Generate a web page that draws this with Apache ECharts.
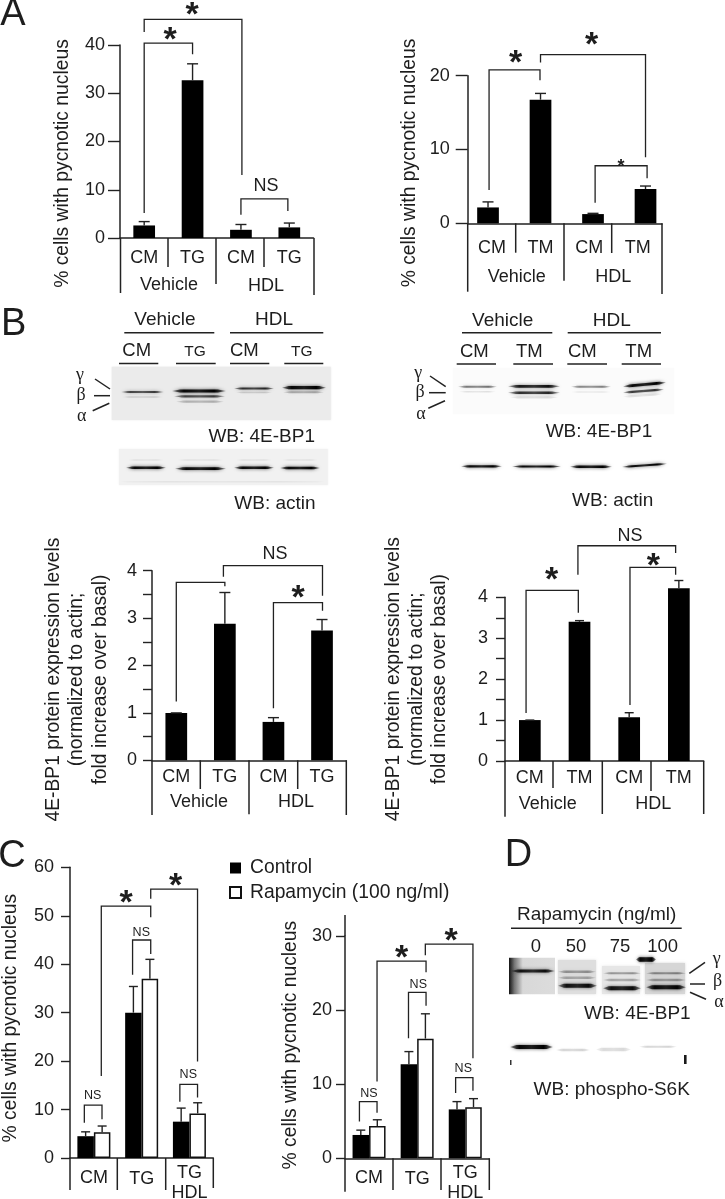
<!DOCTYPE html>
<html>
<head>
<meta charset="utf-8">
<style>html,body{margin:0;padding:0;background:#fff}#c{width:725px;height:1199px}</style>
<script src="https://cdn.jsdelivr.net/npm/echarts@6/dist/echarts.min.js"></script>
</head>
<body>
<div id="c"></div>
<script>
// ---------- DATA ----------
const a1Cats = ['CM','TG','CM','TG'];
const a1Vals = [2.6,32.7,1.7,2.2];
const a1Tops = [3.4,36.1,2.8,3.1];
const a2Cats = ['CM','TM','CM','TM'];
const a2Vals = [2.15,16.75,1.25,4.65];
const a2Tops = [2.9,17.6,1.35,5.05];
const b1Cats = ['CM','TG','CM','TG'];
const b1Vals = [1.0,2.88,0.81,2.74];
const b1Tops = [1.0,3.54,0.90,2.97];
const b2Cats = ['CM','TM','CM','TM'];
const b2Vals = [1.0,3.40,1.07,4.22];
const b2Tops = [1.0,3.43,1.18,4.41];
const c1Cats = ['CM','TG','TG\nHDL'];
const c1Control = [4.5,30.0,7.5];
const c1ControlTops = [5.4,35.4,10.3];
const c1Rapa = [5.3,37.0,9.2];
const c1RapaTops = [6.6,41.0,11.4];
const c2Cats = ['CM','TG','TG\nHDL'];
const c2Control = [3.15,12.7,6.6];
const c2ControlTops = [3.8,14.4,7.65];
const c2Rapa = [4.36,16.15,6.9];
const c2RapaTops = [5.2,19.5,8.05];
const yTitleCells = '% cells with pycnotic nucleus';
const yTitleExpr = '4E-BP1 protein expression levels\n(normalized to actin;\nfold increase over basal)';
const seriesControl = 'Control';
const seriesRapa = 'Rapamycin (100 ng/ml)';
// brackets: [xLeft, footLeft, xRight, footRight, top] in bar-index / axis-value units
const a1Brackets = [[0,5.2,1,38.1,40.4],[0,42.7,2.02,13.05,45.3],[2,4.8,2.97,5.6,8.1]];
const a2Brackets = [[0.02,4.5,0.99,19.4,20.8],[1,21.8,3,8.94,22.85],[2.04,2.8,3.03,6.1,7.8]];
const b1Brackets = [[0,1.24,1,3.67,3.755],[0.97,3.87,3.01,3.47,4.105],[2,1.10,3.01,3.155,3.325]];
const b2Brackets = [[-0.076,1.17,0.976,3.62,4.17],[0.968,4.55,2.935,5.08,5.26],[2.016,1.37,2.935,4.55,4.73]];
const c1Brackets = [[-0.2,7.3,0.17,8.0,10.9],[0.155,16.9,1.19,49.7,52],[1.19,53.5,2.17,19.9,55.5],[0.81,37.8,1.19,42.1,45],[1.8,11.6,2.17,12.5,15.2]];
const c2Brackets = [[-0.2,4.95,0.166,6.16,7.65],[0.166,10.35,1.185,25.1,26.6],[1.17,27.4,2.16,13.5,28.9],[0.82,16.2,1.185,20.6,22.4],[1.8,8.8,2.16,9.1,10.9]];

// ---------- STYLE ----------
const INK = '#1d1d1d', LINE = '#222';
const SANS = '"Liberation Sans", Arial, sans-serif', SERIF = '"Liberation Serif", serif';

const grids=[], xAxes=[], yAxes=[], series=[];
function bracketSeries(data,xi,yi){
  return {type:'custom',coordinateSystem:'cartesian2d',xAxisIndex:xi,yAxisIndex:yi,silent:true,z:5,
    encode:{x:[0,2],y:[1,3,4]},data,
    renderItem(p,api){
      const a=api.value(0),f1=api.value(1),b=api.value(2),f2=api.value(3),t=api.value(4);
      return {type:'polyline',shape:{points:[api.coord([a,f1]),api.coord([a,t]),api.coord([b,t]),api.coord([b,f2])]},
        style:{fill:'none',stroke:LINE,lineWidth:1.3}};
    }};
}
function errorSeries(vals,tops,xi,yi,off,cap){
  return {type:'custom',coordinateSystem:'cartesian2d',xAxisIndex:xi,yAxisIndex:yi,silent:true,z:4,
    encode:{x:0,y:[1,2]},data:vals.map((v,i)=>[i,v,tops[i]]),
    renderItem(p,api){
      const b=api.coord([api.value(0),api.value(1)]),t=api.coord([api.value(0),api.value(2)]);
      const x=b[0]+off,st={stroke:LINE,lineWidth:1.4,fill:'none'};
      return {type:'group',children:[
        {type:'line',shape:{x1:x,y1:b[1],x2:x,y2:t[1]},style:st},
        {type:'line',shape:{x1:x-cap/2,y1:t[1],x2:x+cap/2,y2:t[1]},style:st}]};
    }};
}
function panel(o){
  const g=grids.length;
  grids.push({left:o.left,top:o.top,width:o.width,height:o.height,containLabel:false,outerBoundsMode:'none'});
  const xi=xAxes.length, n=o.cats.length;
  xAxes.push({type:'category',gridIndex:g,data:o.catData||o.cats,
    axisLine:{onZero:false,lineStyle:{color:LINE,width:1.5}},axisTick:{show:false},
    axisLabel:{color:INK,fontFamily:SANS,fontSize:18,margin:o.labelMargin,interval:0,lineHeight:20}});
  xAxes.push({type:'value',gridIndex:g,show:false,min:o.xMin!==undefined?o.xMin:-0.5,max:o.xMax!==undefined?o.xMax:n-0.5,splitLine:{show:false}});
  yAxes.push({type:'value',gridIndex:g,min:0,max:o.max,interval:o.interval,
    axisLine:{show:true,onZero:false,lineStyle:{color:LINE,width:1.5}},
    axisTick:{show:true,length:o.tick,lineStyle:{color:LINE,width:1.4}},
    splitLine:{show:false},
    axisLabel:{color:INK,fontFamily:SANS,fontSize:18,margin:o.tick+o.tickMargin,
      formatter:v=>(v%o.labelEvery===0?String(v):'')},
    name:o.title,nameLocation:'middle',nameGap:o.nameGap,nameRotate:90,
    nameTextStyle:{color:INK,fontFamily:SANS,fontSize:19.3,lineHeight:23.3,padding:o.namePad}});
  const bar=(name,vals,color,w)=>({type:'bar',name,xAxisIndex:o.barsOnValue?xi+1:xi,yAxisIndex:g,barWidth:w,barGap:0,z:3,clip:false,
    data:o.barsOnValue?vals.map((v,i)=>[i,v]):vals,
    itemStyle:{color,borderColor:'#111',borderWidth:color==='#000'?0:1.5}});
  o.sets.forEach(s=>{
    series.push(bar(s.name,s.vals,s.color,o.barW));
    series.push(errorSeries(s.vals,s.tops,xi+1,g,s.off,o.cap));
  });
  series.push(bracketSeries(o.brackets,xi+1,g));
}
panel({cats:a1Cats,left:120,top:45,width:193.5,height:193,max:40,interval:10,labelEvery:10,tick:12,tickMargin:3,labelMargin:10,
  title:yTitleCells,nameGap:46,namePad:[0,44,0,0],barW:21.7,cap:11,brackets:a1Brackets,
  sets:[{name:'A TG',vals:a1Vals,tops:a1Tops,color:'#000',off:0}]});
panel({cats:a2Cats,left:467.7,top:75.7,width:194.3,height:147.6,max:20,interval:10,labelEvery:10,tick:12,tickMargin:6,labelMargin:14.5,
  barsOnValue:true,xMin:-0.387,xMax:3.314,
  title:yTitleCells,nameGap:46,namePad:[0,27,0,0],barW:21.7,cap:11,brackets:a2Brackets,
  sets:[{name:'A TM',vals:a2Vals,tops:a2Tops,color:'#000',off:0}]});
panel({cats:b1Cats,left:152,top:570.7,width:194.3,height:189.6,max:4,interval:0.5,labelEvery:1,tick:9,tickMargin:6,labelMargin:7,
  title:yTitleExpr,nameGap:40,namePad:[0,28,0,0],barW:21.7,cap:11,brackets:b1Brackets,
  sets:[{name:'B TG',vals:b1Vals,tops:b1Tops,color:'#000',off:0}]});
panel({cats:b2Cats,left:505,top:597.3,width:198.7,height:163.7,max:4,interval:0.5,labelEvery:1,tick:9,tickMargin:8,labelMargin:7,
  title:yTitleExpr,nameGap:53.5,namePad:[0,0,0,0],barW:21.7,cap:9,brackets:b2Brackets,
  sets:[{name:'B TM',vals:b2Vals,tops:b2Tops,color:'#000',off:0}]});
const cCatData=[{value:'CM',textStyle:{padding:[5.2,0,0,0]}},{value:'TG',textStyle:{padding:[6,0,0,0]}},'TG\nHDL'];
panel({cats:c1Cats,catData:cCatData,
  left:70,top:867.3,width:143.3,height:290.7,max:60,interval:10,labelEvery:10,tick:9,tickMargin:7,labelMargin:5,
  title:yTitleCells,nameGap:47.5,namePad:[0,11,0,0],barW:16.5,cap:9,brackets:c1Brackets,
  sets:[{name:seriesControl,vals:c1Control,tops:c1ControlTops,color:'#000',off:-8.25},
        {name:seriesRapa,vals:c1Rapa,tops:c1RapaTops,color:'#fff',off:8.25}]});
panel({cats:c2Cats,catData:cCatData,
  left:345,top:936,width:144.3,height:222.3,max:30,interval:10,labelEvery:10,tick:9,tickMargin:4,labelMargin:5,
  title:yTitleCells,nameGap:43,namePad:[0,0,0,4],barW:16.5,cap:9,brackets:c2Brackets,
  sets:[{name:seriesControl,vals:c2Control,tops:c2ControlTops,color:'#000',off:-8.25},
        {name:seriesRapa,vals:c2Rapa,tops:c2RapaTops,color:'#fff',off:8.25}]});

// ---------- GRAPHIC HELPERS ----------
const G=[];
const txt=(s,x,y,size,opt)=>G.push({type:'text',x,y,silent:true,z:10,
  style:{text:s,fill:INK,font:(opt&&opt.weight?opt.weight+' ':'')+size+'px '+((opt&&opt.family)||SANS),align:'center',verticalAlign:'middle'}});
const star=(x,y,size)=>txt('*',x,y+size*0.24,size,{weight:'bold'});
const seg=(x1,y1,x2,y2,w)=>G.push({type:'line',silent:true,z:6,shape:{x1,y1,x2,y2},style:{stroke:LINE,lineWidth:w||1.5}});
const box=(x,y,w,h,fill,blur)=>G.push({type:'rect',silent:true,z:1,shape:{x,y,width:w,height:h},style:{fill,shadowBlur:blur||0,shadowColor:typeof fill==='string'?fill:'transparent'}});
// fuzzy blot band: a tapered lens with a gradient along its length
const band=(x1,x2,y,th,a,y2)=>{
  const e=y2===undefined?y:y2,L=x2-x1,h=th/2,q=Math.min(L*0.15,8);
  const ym=(t)=>y+(e-y)*t;
  const f=new echarts.graphic.LinearGradient(0,0,1,0,[
    {offset:0,color:`rgba(0,0,0,${a*0.35})`},{offset:.22,color:`rgba(0,0,0,${a*0.95})`},
    {offset:.5,color:`rgba(0,0,0,${a*0.8})`},{offset:.78,color:`rgba(0,0,0,${a})`},{offset:1,color:`rgba(0,0,0,${a*0.35})`}]);
  G.push({type:'polygon',silent:true,z:2,shape:{points:[[x1,y],[x1+q,ym(q/L)-h],[x2-q,ym(1-q/L)-h],[x2,e],[x2-q,ym(1-q/L)+h],[x1+q,ym(q/L)+h]]},
    style:{fill:f,shadowBlur:3.5,shadowColor:`rgba(0,0,0,${a*0.75})`}});
};
const mark=(x,y,w,h,a)=>G.push({type:'rect',silent:true,z:2,shape:{x,y,width:w,height:h},style:{fill:`rgba(0,0,0,${a})`}});

// panel letters
txt('A',13,15,38); txt('B',13.7,325,38); txt('C',12,857,38); txt('D',518.5,856,38);

// A1 furniture
[[120.5,293],[168,267],[216,284],[264,267],[314,295]].forEach(d=>seg(d[0],238,d[0],d[1]));
txt('Vehicle',169,285,18); txt('HDL',266,285.7,18);
star(192,7,34); star(170,32,34); txt('NS',266,186,18);
// A2 furniture
[[467.7,291.7],[515.7,252.7],[564,280.7],[611.7,253],[662,294]].forEach(d=>seg(d[0],223.3,d[0],d[1]));
txt('Vehicle',516.7,276.7,18); txt('HDL',613.3,277,18);
star(515.7,55,34); star(591.7,37.7,34); star(621,162.7,18);
// B1 furniture
[[152,815],[200.3,789],[249,814.3],[297.7,789],[346.3,815]].forEach(d=>seg(d[0],760.3,d[0],d[1]));
txt('Vehicle',199,801.7,18); txt('HDL',296,801.7,18);
star(298,590,34); txt('NS',275,554,18);
// B2 furniture
[[505,816.7],[553,788],[602.3,814],[651,791],[703.7,814]].forEach(d=>seg(d[0],761,d[0],d[1]));
txt('Vehicle',547.7,803.7,18); txt('HDL',653.3,803.7,18);
star(551.7,572.3,34); star(653.3,558.3,34); txt('NS',630,535.7,18);
// C1 furniture
[[70,1190],[117.3,1190],[165.7,1190],[213.3,1188]].forEach(d=>seg(d[0],1158,d[0],d[1]));
star(126,895.7,34); star(175.7,878.3,34);
txt('NS',92.7,1095.7,12.5); txt('NS',141.3,932.7,12.5); txt('NS',188.3,1074.3,12.5);
// C2 furniture
[[345,1191.7],[393,1190],[441,1190],[489.3,1190]].forEach(d=>seg(d[0],1158.3,d[0],d[1]));
seg(345,915,345,936);
star(401.7,950,34); star(451,933,34);
txt('NS',369,1093.3,12.5); txt('NS',418.3,985,12.5); txt('NS',463.3,1069,12.5);

// B left blot
txt('Vehicle',165,320,19); seg(124.3,332.7,214.3,332.7); txt('HDL',274,320,19); seg(230,332.7,323.3,332.7);
txt('CM',136.7,351,18.5); txt('TG',195,352,15.5); txt('CM',244.3,351,18.5); txt('TG',301.7,352,15.5);
[[119,158.3],[176,215.7],[230,269.3],[284.3,323.3]].forEach(d=>seg(d[0],363.5,d[1],363.5));
txt('γ',80,375,18,{family:SERIF}); txt('β',81,395,18,{family:SERIF}); txt('α',81.7,416.7,18,{family:SERIF});
seg(95,379,110,389); seg(94,395.7,110,395.7); seg(92.7,410.7,109.3,403.3);
box(111.7,366.7,219,53.3,'#ebebeb',2);
band(121,164,392,2,.7); band(122,163,397,1.5,.14);
band(172,226,391,3.2,1); band(174,225,396.3,2.2,.7); band(176,224,401.7,2.2,.25);
band(234,274,388.5,2,.8); band(236,272,392.5,1.5,.15);
band(282,326,387.7,3.2,1); band(283,324,392.3,2,.28);
txt('WB: 4E-BP1',261.7,436.7,19);
box(119,449,208.7,36,'#f1f1f1',2);
band(126,166,467.7,2.4,1); band(175,226,468.7,2.8,1); band(234,274,467.7,2.4,1); band(280,320,468,2.4,1);
band(128,164,460,1.5,.07); band(177,224,460,1.5,.07); band(236,272,460,1.5,.07); band(282,318,460,1.5,.07); band(120,325,481.7,1.5,.06);
txt('WB: actin',275,503.3,19);

// B right blot
txt('Vehicle',502.7,320.7,19); seg(462,332.7,552.3,332.7); txt('HDL',611.7,320.7,19); seg(567.7,332.7,661,332.7);
txt('CM',474.3,351.7,18.5); txt('TM',529.3,351.7,18.5); txt('CM',582.3,351.7,18.5); txt('TM',638.7,351.7,18.5);
[[456.7,496],[513.3,553],[567.3,607],[621.7,661]].forEach(d=>seg(d[0],364,d[1],364));
txt('γ',418.3,373.3,18,{family:SERIF}); txt('β',420,392.3,18,{family:SERIF}); txt('α',421,414,18,{family:SERIF});
seg(430,376,445.7,386.7); seg(429,392.7,445.7,392.7); seg(428.3,408.3,445,400.7);
box(453,368,221,46,'#fbfbfb',3);
band(458,497,386.7,2,.5); band(459,496,391.7,1.6,.1);
band(508,560,386.3,2.8,.9); band(508,560,392.7,2.4,.8); band(510,558,397.3,2.2,.12);
band(571,611,386.7,2,.45); band(571,611,392,1.6,.08);
band(623,666,386.5,2.8,1,382.5); band(623,664,392.5,2.2,.75,389.5); band(623,662,396.7,2.2,.1,394);
txt('WB: 4E-BP1',599,431.7,19);
band(461,502,466.3,2.2,1); band(512,561,466.5,2.2,1); band(570,612,466.7,2.4,1); band(622,667,467,2,1,463.8);
txt('WB: actin',612.7,500.7,19);

// D blot
txt('Rapamycin (ng/ml)',596.7,915,19); seg(511,928.3,681.7,928.3);
txt('0',536,946.7,18.5); txt('50',576,946.7,18.5); txt('75',620,946.7,18.5); txt('100',662.7,946.7,18.5);
box(509,957.7,46,36.6,new echarts.graphic.LinearGradient(0,0,1,0,[{offset:0,color:'#111'},{offset:.12,color:'#777'},{offset:.3,color:'#d8d8d8'},{offset:1,color:'#dcdcdc'}]));
box(558,960,38,34,'#dedede',2.5); box(602,966,38,28,'#e6e6e6',2.5); box(645,963,40,31,'#d6d6d6',2.5);
band(511,555,971,3,.9);
band(558,596,971.7,2.6,.35); band(558,596,977.7,2.6,.28); band(558,597,985.7,4,.92);
band(603,641,973.3,2,.35); band(603,641,980,2.6,.28); band(603,641,988.3,4,.92);
band(646,686,973.3,2,.4); band(646,686,980,2.6,.33); band(646,686,987.3,4,.97);
band(636,656,959.5,4.5,1);
txt('γ',716.7,959.3,18,{family:SERIF}); txt('β',717.7,981.7,18,{family:SERIF}); txt('α',719,1002.7,18,{family:SERIF});
seg(689.3,973.3,705,962.3); seg(690,984,705,984); seg(690,992.3,706,999.3);
txt('WB: 4E-BP1',637.3,1014,19);
band(510,553,1047,4,1); band(556,590,1050,2.6,.16); band(596,631,1049.5,3.6,.14); band(639,677,1046.7,2,.16);
mark(510,1060,1.5,5,.8); mark(684,1055,2.6,9,.9);
txt('WB: phospho-S6K',611.7,1090,19);

const chart=echarts.init(document.getElementById('c'),null,{renderer:'canvas'});
chart.setOption({
  animation:false,backgroundColor:'#fff',
  grid:grids,xAxis:xAxes,yAxis:yAxes,series,graphic:{elements:G},
  legend:{data:[seriesControl,seriesRapa],orient:'vertical',left:224,top:852,icon:'rect',itemWidth:11,itemHeight:11,itemGap:2.5,
    selectedMode:false,textStyle:{color:INK,fontFamily:SANS,fontSize:19.3,padding:[0,0,0,4],lineHeight:22}}
});
</script>
</body>
</html>
